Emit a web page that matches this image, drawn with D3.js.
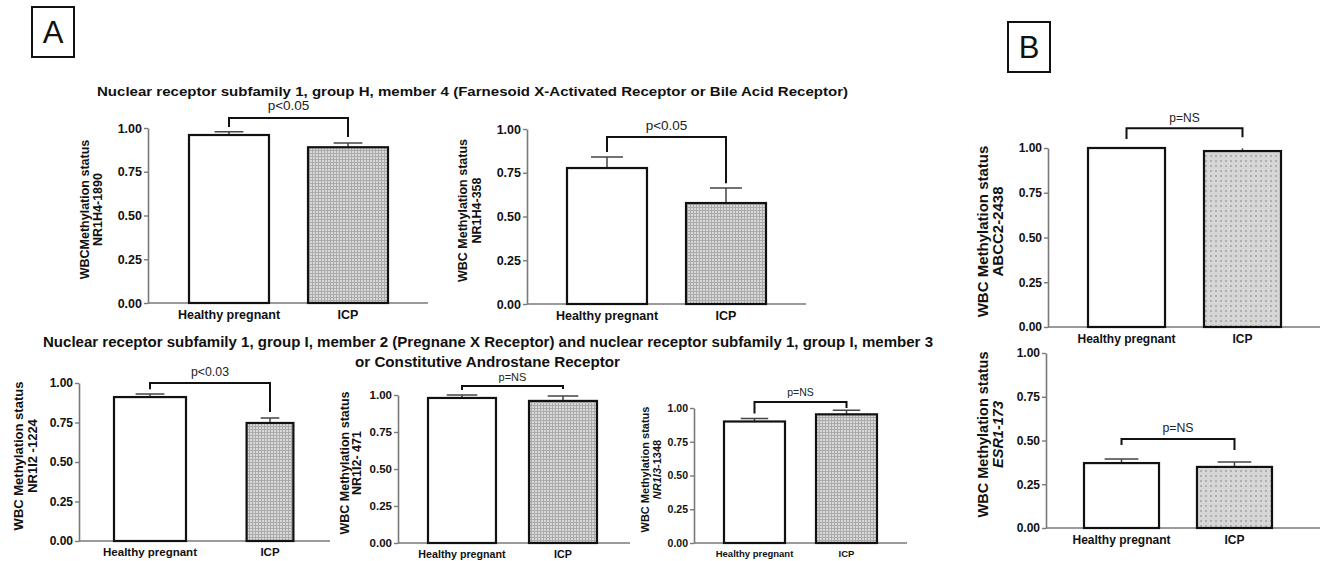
<!DOCTYPE html>
<html>
<head>
<meta charset="utf-8">
<script src="https://cdn.jsdelivr.net/npm/d3@7"></script>
<style>
  body { margin: 0; background: #fff; }
  svg { display: block; font-family: "Liberation Sans", Arial, sans-serif; }
</style>
</head>
<body>
<div id="fig"></div>
<script>
// data
const groups = ['Healthy pregnant', 'ICP'];
const yTicks = [0, 0.25, 0.5, 0.75, 1];

const nr1h4_1890 = [0.96, 0.89];
const nr1h4_1890Sem = [0.018, 0.025];
const nr1h4_358 = [0.777, 0.577];
const nr1h4_358Sem = [0.063, 0.086];
const nr1i2_1224 = [0.911, 0.747];
const nr1i2_1224Sem = [0.02, 0.031];
const nr1i2_471 = [0.98, 0.96];
const nr1i2_471Sem = [0.02, 0.033];
const nr1i3_1348 = [0.90, 0.953];
const nr1i3_1348Sem = [0.022, 0.03];
const abcc2_2438 = [1.0, 0.983];
const abcc2_2438Sem = [0, 0.015];
const esr1_173 = [0.371, 0.349];
const esr1_173Sem = [0.023, 0.028];

const pLabels = ['p<0.05', 'p<0.05', 'p<0.03', 'p=NS', 'p=NS', 'p=NS', 'p=NS'];

const titleA1 = 'Nuclear receptor subfamily 1, group H, member 4 (Farnesoid X-Activated Receptor or Bile Acid Receptor)';
const titleA2 = ['Nuclear receptor subfamily 1, group I, member 2 (Pregnane X Receptor) and nuclear receptor subfamily 1, group I, member 3',
  'or Constitutive Androstane Receptor'];

const W = 1321, H = 561;
const svg = d3.select('#fig').append('svg')
  .attr('width', W)
  .attr('height', H);

svg.append('rect').attr('width', W).attr('height', H).attr('fill', '#fff');

// dotted grey fills of the ICP bars
const defs = svg.append('defs');
const fine = defs.append('pattern')
  .attr('id', 'fine')
  .attr('width', 3).attr('height', 3)
  .attr('patternUnits', 'userSpaceOnUse');
fine.append('rect').attr('width', 3).attr('height', 3).attr('fill', '#d8d8d8');
fine.append('rect').attr('width', 3).attr('height', 1).attr('fill', '#ababab');
fine.append('rect').attr('width', 1).attr('height', 3).attr('fill', '#ababab');

const coarse = defs.append('pattern')
  .attr('id', 'coarse')
  .attr('width', 5).attr('height', 5)
  .attr('patternUnits', 'userSpaceOnUse');
coarse.append('rect').attr('width', 5).attr('height', 5).attr('fill', '#d6d6d6');
coarse.append('rect').attr('width', 2).attr('height', 2).attr('fill', '#b0b0b0');

// a label line is a list of parts: plain strings, or [text, italic]
const panels = [
  { values: nr1h4_1890, sem: nr1h4_1890Sem, p: pLabels[0],
    yLabel: [['WBCMethylation status'], ['NR1H4-1890']],
    top: 128, bottom: 303, axisX: 148, axisEnd: 428, bars: [189, 388], pad: 0.328, icpScale: 1,
    labX: [85, 98], bracket: { y: 1.057, l: 1.006, r: 0.949 }, pGap: 8,
    tick: 12.5, cat: 12.5, pFont: 13.5, lab: 12.5, fill: 'fine', cap: 0.36 },
  { values: nr1h4_358, sem: nr1h4_358Sem, p: pLabels[1],
    yLabel: [['WBC Methylation status'], ['NR1H4-358']],
    top: 129, bottom: 304, axisX: 527, axisEnd: 806, bars: [567, 766], pad: 0.328, icpScale: 1,
    labX: [463, 477], bracket: { y: 0.954, l: 0.869, r: 0.69 }, pGap: 7,
    tick: 12.5, cat: 12.5, pFont: 13.5, lab: 12.5, fill: 'fine', cap: 0.4 },
  { values: nr1i2_1224, sem: nr1i2_1224Sem, p: pLabels[2],
    yLabel: [['WBC Methylation status'], ['NR1I2 -1224']],
    top: 383, bottom: 541, axisX: 79, axisEnd: 330, bars: [114, 306], pad: 0.4, icpScale: 0.65,
    labX: [18, 32], bracket: { y: 1.0, l: 0.96, r: 0.816 }, pGap: 7,
    tick: 12, cat: 11.5, pFont: 12.3, lab: 13, fill: 'fine', cap: 0.4 },
  { values: nr1i2_471, sem: nr1i2_471Sem, p: pLabels[3],
    yLabel: [['WBC Methylation status'], ['NR1I2- 471']],
    top: 395, bottom: 543, axisX: 398, axisEnd: 630, bars: [428, 597], pad: 0.327, icpScale: 1,
    labX: [345, 357], bracket: { y: 1.06, l: 1.034, r: 1.04 }, pGap: 5,
    tick: 11.5, cat: 10.7, pFont: 11, lab: 12.5, fill: 'fine', cap: 0.45 },
  { values: nr1i3_1348, sem: nr1i3_1348Sem, p: pLabels[4],
    yLabel: [['WBC Methylation status'], [['NR1I3', true], '-1348']],
    top: 408, bottom: 543, axisX: 694, axisEnd: 907, bars: [724, 877], pad: 0.337, icpScale: 1,
    labX: [645, 657], bracket: { y: 1.044, l: 0.96, r: 1.0 }, pGap: 6,
    tick: 10.5, cat: 9.5, pFont: 10.5, lab: 11, fill: 'fine', cap: 0.45 },
  { values: abcc2_2438, sem: abcc2_2438Sem, p: pLabels[5],
    yLabel: [['WBC Methylation status'], ['ABCC2-2438']],
    top: 148, bottom: 327, axisX: 1048, axisEnd: 1320, bars: [1088, 1281], pad: 0.336, icpScale: 1,
    labX: [982, 997], bracket: { y: 1.11, l: 1.05, r: 1.06 }, pGap: 6,
    tick: 12, cat: 12, pFont: 12, lab: 15, fill: 'coarse', cap: 0 },
  { values: esr1_173, sem: esr1_173Sem, p: pLabels[6],
    yLabel: [['WBC Methylation status'], [['ESR1-173', true]]],
    top: 353, bottom: 528, axisX: 1046, axisEnd: 1320, bars: [1084, 1272], pad: 0.336, icpScale: 1,
    labX: [983, 998], bracket: { y: 0.509, l: 0.474, r: 0.446 }, pGap: 7,
    tick: 12, cat: 12, pFont: 12.3, lab: 14.5, fill: 'coarse', cap: 0.45 }
];

function drawPanel(cfg) {
  const g = svg.append('g');
  const y = d3.scaleLinear().domain([0, 1]).range([cfg.bottom, cfg.top]);
  const x = d3.scaleBand().domain(groups).range(cfg.bars).paddingInner(cfg.pad).paddingOuter(0);
  const bw = i => x.bandwidth() * (i === 1 ? cfg.icpScale : 1);
  const cx = d => x(d) + x.bandwidth() / 2;

  // baseline
  g.append('line')
    .attr('x1', cfg.axisX).attr('x2', cfg.axisEnd)
    .attr('y1', y(0)).attr('y2', y(0))
    .attr('stroke', '#7a7a7a').attr('stroke-width', 1.6);

  // y axis
  const ya = g.append('g')
    .attr('transform', `translate(${cfg.axisX},0)`)
    .call(d3.axisLeft(y).tickValues(yTicks).tickFormat(d3.format('.2f'))
      .tickSize(4).tickPadding(2).tickSizeOuter(0));
  ya.select('.domain').attr('stroke', '#7a7a7a').attr('stroke-width', 1.6);
  ya.selectAll('.tick line').attr('stroke', '#7a7a7a').attr('stroke-width', 1.4);
  ya.selectAll('.tick text')
    .attr('font-family', '"Liberation Sans", Arial, sans-serif')
    .attr('font-size', cfg.tick).attr('font-weight', 'bold').attr('fill', '#111');

  // category labels
  const xa = g.append('g')
    .attr('transform', `translate(0,${y(0)})`)
    .call(d3.axisBottom(x).tickSize(0).tickPadding(7));
  xa.select('.domain').remove();
  xa.selectAll('.tick text')
    .attr('font-family', '"Liberation Sans", Arial, sans-serif')
    .attr('font-size', cfg.cat).attr('font-weight', 'bold').attr('fill', '#111');

  // error bars
  g.selectAll('.err')
    .data(groups)
    .join('path')
    .attr('d', (d, i) => {
      const c = cx(d), top = y(cfg.values[i] + cfg.sem[i]);
      const half = bw(i) * cfg.cap / 2;
      return `M${c},${y(cfg.values[i])}V${top}` + (half > 0 ? `M${c - half},${top}H${c + half}` : '');
    })
    .attr('fill', 'none').attr('stroke', '#444').attr('stroke-width', 1.5);

  // bars
  g.selectAll('.bar')
    .data(groups)
    .join('rect')
    .attr('x', (d, i) => cx(d) - bw(i) / 2)
    .attr('width', (d, i) => bw(i))
    .attr('y', (d, i) => y(cfg.values[i]))
    .attr('height', (d, i) => y(0) - y(cfg.values[i]))
    .attr('fill', (d, i) => i === 0 ? '#fff' : `url(#${cfg.fill})`)
    .attr('stroke', '#111').attr('stroke-width', 2.2);

  // significance bracket
  const b = cfg.bracket;
  const x0 = cx(groups[0]), x1 = cx(groups[1]);
  g.append('path')
    .attr('d', `M${x0},${y(b.l)}V${y(b.y)}H${x1}V${y(b.r)}`)
    .attr('fill', 'none').attr('stroke', '#111').attr('stroke-width', 2);
  g.append('text')
    .attr('x', (x0 + x1) / 2).attr('y', y(b.y) - cfg.pGap)
    .attr('text-anchor', 'middle')
    .attr('font-size', cfg.pFont).attr('fill', '#222')
    .text(cfg.p);

  // rotated y label, two lines
  const mid = (cfg.top + cfg.bottom) / 2 - 6;
  cfg.yLabel.forEach((line, k) => {
    const t = g.append('text')
      .attr('transform', `translate(${cfg.labX[k]},${mid}) rotate(-90)`)
      .attr('text-anchor', 'middle')
      .attr('dominant-baseline', 'central')
      .attr('font-size', cfg.lab).attr('font-weight', 'bold').attr('fill', '#111');
    line.forEach(part => {
      const [txt, italic] = typeof part === 'string' ? [part, false] : part;
      t.append('tspan')
        .attr('font-style', italic ? 'italic' : 'normal')
        .text(txt);
    });
  });
}

panels.forEach(drawPanel);

// titles
svg.append('text')
  .attr('x', 97).attr('y', 96)
  .attr('font-size', 13.5).attr('font-weight', 'bold').attr('fill', '#111')
  .attr('textLength', 751).attr('lengthAdjust', 'spacingAndGlyphs')
  .text(titleA1);

svg.append('text')
  .attr('x', 43).attr('y', 347)
  .attr('font-size', 14).attr('font-weight', 'bold').attr('fill', '#111')
  .attr('textLength', 890).attr('lengthAdjust', 'spacingAndGlyphs')
  .text(titleA2[0]);
svg.append('text')
  .attr('x', 355).attr('y', 367)
  .attr('font-size', 14).attr('font-weight', 'bold').attr('fill', '#111')
  .attr('textLength', 265).attr('lengthAdjust', 'spacingAndGlyphs')
  .text(titleA2[1]);

// panel letters
[['A', 32, 7], ['B', 1008, 22]].forEach(([s, bx, by]) => {
  svg.append('rect')
    .attr('x', bx).attr('y', by).attr('width', 42).attr('height', 50)
    .attr('fill', 'none').attr('stroke', '#111').attr('stroke-width', 2);
  svg.append('text')
    .attr('x', bx + 21).attr('y', by + 36)
    .attr('text-anchor', 'middle')
    .attr('font-size', 31).attr('fill', '#111')
    .text(s);
});
</script>
</body>
</html>
